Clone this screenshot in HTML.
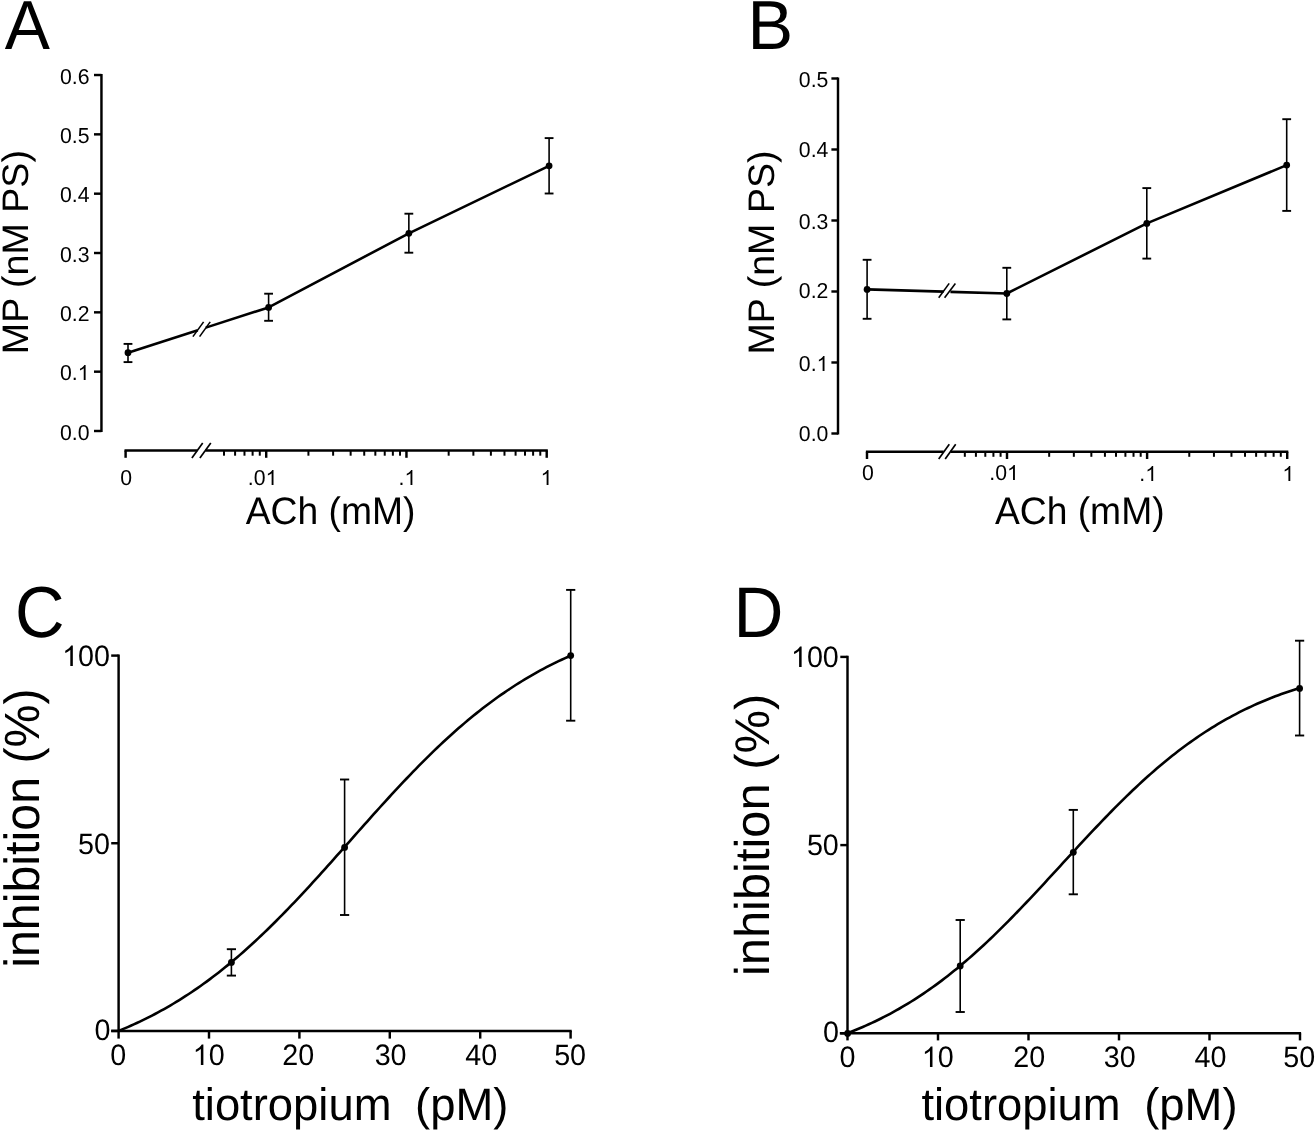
<!DOCTYPE html>
<html><head><meta charset="utf-8"><title>Figure</title><style>
html,body{margin:0;padding:0;background:#fff;overflow:hidden;}
#w{width:1315px;height:1130px;will-change:transform;background:#fff;}
svg{display:block;}
text{font-family:"Liberation Sans", sans-serif;fill:#000;stroke:none;text-rendering:geometricPrecision;}
</style></head><body><div id="w">
<svg width="1315" height="1130" viewBox="0 0 1315 1130">
<rect width="1315" height="1130" fill="#fff"/>
<g stroke="#000" fill="#000" stroke-linecap="butt">
<text transform="translate(4.87,48.75) scale(1.0118,1.0361)" font-size="67">A</text>
<line x1="101.45" y1="73.92" x2="101.45" y2="432.10" stroke-width="2.45"/>
<line x1="94.00" y1="431.00" x2="101.45" y2="431.00" stroke-width="2.45"/>
<g transform="translate(59.960,440.000) scale(1,1.02)" stroke="none"><text x="0.000" y="0" font-size="21.25">0.0</text></g>
<line x1="94.00" y1="371.67" x2="101.45" y2="371.67" stroke-width="2.45"/>
<g transform="translate(59.960,380.000) scale(1,1.02)" stroke="none"><text x="0.000" y="0" font-size="21.25">0.</text><path transform="translate(17.722,0) scale(0.010376,-0.010376)" d="M763 0L583 0L583 1101Q518 1042 412 982Q306 923 222 893L222 1060Q373 1128 486 1225Q599 1322 646 1413L763 1413Z"/></g>
<line x1="94.00" y1="312.34" x2="101.45" y2="312.34" stroke-width="2.45"/>
<g transform="translate(59.960,321.000) scale(1,1.02)" stroke="none"><text x="0.000" y="0" font-size="21.25">0.2</text></g>
<line x1="94.00" y1="253.01" x2="101.45" y2="253.01" stroke-width="2.45"/>
<g transform="translate(59.960,262.000) scale(1,1.02)" stroke="none"><text x="0.000" y="0" font-size="21.25">0.3</text></g>
<line x1="94.00" y1="193.68" x2="101.45" y2="193.68" stroke-width="2.45"/>
<g transform="translate(59.960,202.000) scale(1,1.02)" stroke="none"><text x="0.000" y="0" font-size="21.25">0.4</text></g>
<line x1="94.00" y1="134.35" x2="101.45" y2="134.35" stroke-width="2.45"/>
<g transform="translate(59.960,143.000) scale(1,1.02)" stroke="none"><text x="0.000" y="0" font-size="21.25">0.5</text></g>
<line x1="94.00" y1="75.02" x2="101.45" y2="75.02" stroke-width="2.45"/>
<g transform="translate(59.960,84.000) scale(1,1.02)" stroke="none"><text x="0.000" y="0" font-size="21.25">0.6</text></g>
<text transform="translate(28.32,354.13) rotate(-90) scale(1.0446,1.0245)" font-size="36">MP (nM PS)</text>
<line x1="124.50" y1="450.50" x2="197.30" y2="450.50" stroke-width="2.45"/>
<line x1="205.40" y1="450.50" x2="547.80" y2="450.50" stroke-width="2.45"/>
<line x1="191.90" y1="457.90" x2="202.70" y2="443.10" stroke-width="1.7"/>
<line x1="199.90" y1="457.90" x2="210.80" y2="443.10" stroke-width="1.7"/>
<line x1="125.60" y1="450.50" x2="125.60" y2="457.80" stroke-width="2.45"/>
<line x1="223.98" y1="450.50" x2="223.98" y2="455.70" stroke-width="2.0"/>
<line x1="235.09" y1="450.50" x2="235.09" y2="455.70" stroke-width="2.0"/>
<line x1="244.48" y1="450.50" x2="244.48" y2="455.70" stroke-width="2.0"/>
<line x1="252.61" y1="450.50" x2="252.61" y2="455.70" stroke-width="2.0"/>
<line x1="259.78" y1="450.50" x2="259.78" y2="455.70" stroke-width="2.0"/>
<line x1="266.20" y1="450.50" x2="266.20" y2="457.80" stroke-width="2.45"/>
<line x1="308.42" y1="450.50" x2="308.42" y2="455.70" stroke-width="2.0"/>
<line x1="333.12" y1="450.50" x2="333.12" y2="455.70" stroke-width="2.0"/>
<line x1="350.64" y1="450.50" x2="350.64" y2="455.70" stroke-width="2.0"/>
<line x1="364.23" y1="450.50" x2="364.23" y2="455.70" stroke-width="2.0"/>
<line x1="375.34" y1="450.50" x2="375.34" y2="455.70" stroke-width="2.0"/>
<line x1="384.73" y1="450.50" x2="384.73" y2="455.70" stroke-width="2.0"/>
<line x1="392.86" y1="450.50" x2="392.86" y2="455.70" stroke-width="2.0"/>
<line x1="400.03" y1="450.50" x2="400.03" y2="455.70" stroke-width="2.0"/>
<line x1="406.45" y1="450.50" x2="406.45" y2="457.80" stroke-width="2.45"/>
<line x1="448.67" y1="450.50" x2="448.67" y2="455.70" stroke-width="2.0"/>
<line x1="473.37" y1="450.50" x2="473.37" y2="455.70" stroke-width="2.0"/>
<line x1="490.89" y1="450.50" x2="490.89" y2="455.70" stroke-width="2.0"/>
<line x1="504.48" y1="450.50" x2="504.48" y2="455.70" stroke-width="2.0"/>
<line x1="515.59" y1="450.50" x2="515.59" y2="455.70" stroke-width="2.0"/>
<line x1="524.98" y1="450.50" x2="524.98" y2="455.70" stroke-width="2.0"/>
<line x1="533.11" y1="450.50" x2="533.11" y2="455.70" stroke-width="2.0"/>
<line x1="540.28" y1="450.50" x2="540.28" y2="455.70" stroke-width="2.0"/>
<line x1="546.70" y1="450.50" x2="546.70" y2="457.80" stroke-width="2.45"/>
<g transform="translate(120.270,485.000) scale(1,1.02)" stroke="none"><text x="0.000" y="0" font-size="21.25">0</text></g>
<g transform="translate(247.860,485.000) scale(1,1.02)" stroke="none"><text x="0.000" y="0" font-size="21.25">.0</text><path transform="translate(17.722,0) scale(0.010376,-0.010376)" d="M763 0L583 0L583 1101Q518 1042 412 982Q306 923 222 893L222 1060Q373 1128 486 1225Q599 1322 646 1413L763 1413Z"/></g>
<g transform="translate(398.560,485.000) scale(1,1.02)" stroke="none"><text x="0.000" y="0" font-size="21.25">.</text><path transform="translate(5.904,0) scale(0.010376,-0.010376)" d="M763 0L583 0L583 1101Q518 1042 412 982Q306 923 222 893L222 1060Q373 1128 486 1225Q599 1322 646 1413L763 1413Z"/></g>
<g transform="translate(540.583,485.000) scale(1,1.02)" stroke="none"><path transform="translate(0.000,0) scale(0.010376,-0.010376)" d="M763 0L583 0L583 1101Q518 1042 412 982Q306 923 222 893L222 1060Q373 1128 486 1225Q599 1322 646 1413L763 1413Z"/></g>
<text transform="translate(245.68,524.20) scale(1,1.03)" font-size="37.25">ACh (mM)</text>
<line x1="128.00" y1="352.70" x2="197.80" y2="330.21" stroke-width="2.6"/>
<line x1="205.80" y1="327.63" x2="268.60" y2="307.40" stroke-width="2.6"/>
<line x1="192.90" y1="336.60" x2="203.60" y2="321.90" stroke-width="1.6"/>
<line x1="199.60" y1="336.60" x2="210.20" y2="321.90" stroke-width="1.6"/>
<polyline fill="none" stroke-width="2.6" stroke-linejoin="round" points="268.60,307.40 408.85,233.30 549.10,165.80"/>
<line x1="128.00" y1="343.90" x2="128.00" y2="362.10" stroke-width="1.6"/>
<line x1="123.60" y1="343.90" x2="132.40" y2="343.90" stroke-width="1.9"/>
<line x1="123.60" y1="362.10" x2="132.40" y2="362.10" stroke-width="1.9"/>
<circle cx="128.00" cy="352.70" r="3.4" stroke="none"/>
<line x1="268.60" y1="293.70" x2="268.60" y2="320.80" stroke-width="1.6"/>
<line x1="264.20" y1="293.70" x2="273.00" y2="293.70" stroke-width="1.9"/>
<line x1="264.20" y1="320.80" x2="273.00" y2="320.80" stroke-width="1.9"/>
<circle cx="268.60" cy="307.40" r="3.4" stroke="none"/>
<line x1="408.85" y1="213.70" x2="408.85" y2="252.70" stroke-width="1.6"/>
<line x1="404.45" y1="213.70" x2="413.25" y2="213.70" stroke-width="1.9"/>
<line x1="404.45" y1="252.70" x2="413.25" y2="252.70" stroke-width="1.9"/>
<circle cx="408.85" cy="233.30" r="3.4" stroke="none"/>
<line x1="549.10" y1="138.10" x2="549.10" y2="193.50" stroke-width="1.6"/>
<line x1="544.70" y1="138.10" x2="553.50" y2="138.10" stroke-width="1.9"/>
<line x1="544.70" y1="193.50" x2="553.50" y2="193.50" stroke-width="1.9"/>
<circle cx="549.10" cy="165.80" r="3.4" stroke="none"/>
<text transform="translate(747.38,48.75) scale(1.0218,1.0339)" font-size="67">B</text>
<line x1="838.00" y1="77.40" x2="838.00" y2="434.60" stroke-width="2.45"/>
<line x1="831.40" y1="433.50" x2="838.00" y2="433.50" stroke-width="2.45"/>
<g transform="translate(798.860,441.000) scale(1,1.02)" stroke="none"><text x="0.000" y="0" font-size="21.25">0.0</text></g>
<line x1="831.40" y1="362.50" x2="838.00" y2="362.50" stroke-width="2.45"/>
<g transform="translate(798.860,371.000) scale(1,1.02)" stroke="none"><text x="0.000" y="0" font-size="21.25">0.</text><path transform="translate(17.722,0) scale(0.010376,-0.010376)" d="M763 0L583 0L583 1101Q518 1042 412 982Q306 923 222 893L222 1060Q373 1128 486 1225Q599 1322 646 1413L763 1413Z"/></g>
<line x1="831.40" y1="291.50" x2="838.00" y2="291.50" stroke-width="2.45"/>
<g transform="translate(798.860,298.000) scale(1,1.02)" stroke="none"><text x="0.000" y="0" font-size="21.25">0.2</text></g>
<line x1="831.40" y1="220.50" x2="838.00" y2="220.50" stroke-width="2.45"/>
<g transform="translate(798.860,229.000) scale(1,1.02)" stroke="none"><text x="0.000" y="0" font-size="21.25">0.3</text></g>
<line x1="831.40" y1="149.50" x2="838.00" y2="149.50" stroke-width="2.45"/>
<g transform="translate(798.860,157.000) scale(1,1.02)" stroke="none"><text x="0.000" y="0" font-size="21.25">0.4</text></g>
<line x1="831.40" y1="78.50" x2="838.00" y2="78.50" stroke-width="2.45"/>
<g transform="translate(798.860,87.000) scale(1,1.02)" stroke="none"><text x="0.000" y="0" font-size="21.25">0.5</text></g>
<text transform="translate(774.20,354.54) rotate(-90) scale(1.0451,1.0260)" font-size="36">MP (nM PS)</text>
<line x1="865.90" y1="451.80" x2="943.60" y2="451.80" stroke-width="2.45"/>
<line x1="950.40" y1="451.80" x2="1288.30" y2="451.80" stroke-width="2.45"/>
<line x1="938.70" y1="459.00" x2="949.30" y2="444.30" stroke-width="1.7"/>
<line x1="945.20" y1="459.00" x2="955.70" y2="444.30" stroke-width="1.7"/>
<line x1="867.00" y1="451.80" x2="867.00" y2="459.00" stroke-width="2.45"/>
<line x1="964.83" y1="451.80" x2="964.83" y2="456.80" stroke-width="2.0"/>
<line x1="975.92" y1="451.80" x2="975.92" y2="456.80" stroke-width="2.0"/>
<line x1="985.30" y1="451.80" x2="985.30" y2="456.80" stroke-width="2.0"/>
<line x1="993.42" y1="451.80" x2="993.42" y2="456.80" stroke-width="2.0"/>
<line x1="1000.59" y1="451.80" x2="1000.59" y2="456.80" stroke-width="2.0"/>
<line x1="1007.00" y1="451.80" x2="1007.00" y2="459.00" stroke-width="2.45"/>
<line x1="1049.17" y1="451.80" x2="1049.17" y2="456.80" stroke-width="2.0"/>
<line x1="1073.84" y1="451.80" x2="1073.84" y2="456.80" stroke-width="2.0"/>
<line x1="1091.35" y1="451.80" x2="1091.35" y2="456.80" stroke-width="2.0"/>
<line x1="1104.93" y1="451.80" x2="1104.93" y2="456.80" stroke-width="2.0"/>
<line x1="1116.02" y1="451.80" x2="1116.02" y2="456.80" stroke-width="2.0"/>
<line x1="1125.40" y1="451.80" x2="1125.40" y2="456.80" stroke-width="2.0"/>
<line x1="1133.52" y1="451.80" x2="1133.52" y2="456.80" stroke-width="2.0"/>
<line x1="1140.69" y1="451.80" x2="1140.69" y2="456.80" stroke-width="2.0"/>
<line x1="1147.10" y1="451.80" x2="1147.10" y2="459.00" stroke-width="2.45"/>
<line x1="1189.27" y1="451.80" x2="1189.27" y2="456.80" stroke-width="2.0"/>
<line x1="1213.94" y1="451.80" x2="1213.94" y2="456.80" stroke-width="2.0"/>
<line x1="1231.45" y1="451.80" x2="1231.45" y2="456.80" stroke-width="2.0"/>
<line x1="1245.03" y1="451.80" x2="1245.03" y2="456.80" stroke-width="2.0"/>
<line x1="1256.12" y1="451.80" x2="1256.12" y2="456.80" stroke-width="2.0"/>
<line x1="1265.50" y1="451.80" x2="1265.50" y2="456.80" stroke-width="2.0"/>
<line x1="1273.62" y1="451.80" x2="1273.62" y2="456.80" stroke-width="2.0"/>
<line x1="1280.79" y1="451.80" x2="1280.79" y2="456.80" stroke-width="2.0"/>
<line x1="1287.20" y1="451.80" x2="1287.20" y2="459.00" stroke-width="2.45"/>
<g transform="translate(861.970,480.000) scale(1,1.02)" stroke="none"><text x="0.000" y="0" font-size="21.25">0</text></g>
<g transform="translate(989.260,480.000) scale(1,1.02)" stroke="none"><text x="0.000" y="0" font-size="21.25">.0</text><path transform="translate(17.722,0) scale(0.010376,-0.010376)" d="M763 0L583 0L583 1101Q518 1042 412 982Q306 923 222 893L222 1060Q373 1128 486 1225Q599 1322 646 1413L763 1413Z"/></g>
<g transform="translate(1139.360,481.000) scale(1,1.02)" stroke="none"><text x="0.000" y="0" font-size="21.25">.</text><path transform="translate(5.904,0) scale(0.010376,-0.010376)" d="M763 0L583 0L583 1101Q518 1042 412 982Q306 923 222 893L222 1060Q373 1128 486 1225Q599 1322 646 1413L763 1413Z"/></g>
<g transform="translate(1282.383,481.000) scale(1,1.02)" stroke="none"><path transform="translate(0.000,0) scale(0.010376,-0.010376)" d="M763 0L583 0L583 1101Q518 1042 412 982Q306 923 222 893L222 1060Q373 1128 486 1225Q599 1322 646 1413L763 1413Z"/></g>
<text transform="translate(994.88,523.90) scale(1,1.03)" font-size="37.25">ACh (mM)</text>
<line x1="867.10" y1="289.40" x2="943.60" y2="291.65" stroke-width="2.6"/>
<line x1="950.40" y1="291.84" x2="1006.80" y2="293.50" stroke-width="2.6"/>
<line x1="938.70" y1="297.80" x2="949.20" y2="283.40" stroke-width="1.6"/>
<line x1="944.60" y1="297.80" x2="955.40" y2="283.40" stroke-width="1.6"/>
<polyline fill="none" stroke-width="2.6" stroke-linejoin="round" points="1006.80,293.50 1146.80,223.40 1286.70,165.10"/>
<line x1="867.10" y1="259.80" x2="867.10" y2="318.80" stroke-width="1.6"/>
<line x1="862.70" y1="259.80" x2="871.50" y2="259.80" stroke-width="1.9"/>
<line x1="862.70" y1="318.80" x2="871.50" y2="318.80" stroke-width="1.9"/>
<circle cx="867.10" cy="289.40" r="3.4" stroke="none"/>
<line x1="1006.80" y1="267.80" x2="1006.80" y2="319.40" stroke-width="1.6"/>
<line x1="1002.40" y1="267.80" x2="1011.20" y2="267.80" stroke-width="1.9"/>
<line x1="1002.40" y1="319.40" x2="1011.20" y2="319.40" stroke-width="1.9"/>
<circle cx="1006.80" cy="293.50" r="3.4" stroke="none"/>
<line x1="1146.80" y1="188.10" x2="1146.80" y2="258.60" stroke-width="1.6"/>
<line x1="1142.40" y1="188.10" x2="1151.20" y2="188.10" stroke-width="1.9"/>
<line x1="1142.40" y1="258.60" x2="1151.20" y2="258.60" stroke-width="1.9"/>
<circle cx="1146.80" cy="223.40" r="3.4" stroke="none"/>
<line x1="1286.70" y1="119.20" x2="1286.70" y2="210.90" stroke-width="1.6"/>
<line x1="1282.30" y1="119.20" x2="1291.10" y2="119.20" stroke-width="1.9"/>
<line x1="1282.30" y1="210.90" x2="1291.10" y2="210.90" stroke-width="1.9"/>
<circle cx="1286.70" cy="165.10" r="3.4" stroke="none"/>
<text transform="translate(15.04,636.92) scale(1.0242,1.0807)" font-size="67">C</text>
<line x1="118.60" y1="654.50" x2="118.60" y2="1030.90" stroke-width="2.45"/>
<line x1="111.20" y1="1030.90" x2="118.60" y2="1030.90" stroke-width="2.45"/>
<line x1="111.20" y1="843.25" x2="118.60" y2="843.25" stroke-width="2.45"/>
<line x1="111.20" y1="655.60" x2="118.60" y2="655.60" stroke-width="2.45"/>
<g transform="translate(62.136,666.000) scale(1,1.03)" stroke="none"><path transform="translate(0.000,0) scale(0.014014,-0.014014)" d="M763 0L583 0L583 1101Q518 1042 412 982Q306 923 222 893L222 1060Q373 1128 486 1225Q599 1322 646 1413L763 1413Z"/><text x="15.962" y="0" font-size="28.7">00</text></g>
<g transform="translate(77.998,854.000) scale(1,1.03)" stroke="none"><text x="0.000" y="0" font-size="28.7">50</text></g>
<g transform="translate(94.460,1040.000) scale(1,1.03)" stroke="none"><text x="0.000" y="0" font-size="28.7">0</text></g>
<line x1="111.20" y1="1030.90" x2="571.70" y2="1030.90" stroke-width="2.45"/>
<line x1="118.60" y1="1030.90" x2="118.60" y2="1038.60" stroke-width="2.45"/>
<line x1="209.00" y1="1030.90" x2="209.00" y2="1038.60" stroke-width="2.45"/>
<line x1="299.40" y1="1030.90" x2="299.40" y2="1038.60" stroke-width="2.45"/>
<line x1="389.80" y1="1030.90" x2="389.80" y2="1038.60" stroke-width="2.45"/>
<line x1="480.20" y1="1030.90" x2="480.20" y2="1038.60" stroke-width="2.45"/>
<line x1="570.60" y1="1030.90" x2="570.60" y2="1038.60" stroke-width="2.45"/>
<g transform="translate(110.179,1065.000) scale(1,1.03)" stroke="none"><text x="0.000" y="0" font-size="28.7">0</text></g>
<g transform="translate(192.689,1065.000) scale(1,1.03)" stroke="none"><path transform="translate(0.000,0) scale(0.014014,-0.014014)" d="M763 0L583 0L583 1101Q518 1042 412 982Q306 923 222 893L222 1060Q373 1128 486 1225Q599 1322 646 1413L763 1413Z"/><text x="15.962" y="0" font-size="28.7">0</text></g>
<g transform="translate(282.357,1065.000) scale(1,1.03)" stroke="none"><text x="0.000" y="0" font-size="28.7">20</text></g>
<g transform="translate(374.652,1065.000) scale(1,1.03)" stroke="none"><text x="0.000" y="0" font-size="28.7">30</text></g>
<g transform="translate(465.270,1065.000) scale(1,1.03)" stroke="none"><text x="0.000" y="0" font-size="28.7">40</text></g>
<g transform="translate(554.151,1065.000) scale(1,1.03)" stroke="none"><text x="0.000" y="0" font-size="28.7">50</text></g>
<text transform="translate(39.20,967.77) rotate(-90) scale(1.0072,1.0302)" font-size="48">inhibition (%)</text>
<text transform="translate(192.18,1119.50) scale(1,1.0)" font-size="45.4">tiotropium</text>
<text transform="translate(415.12,1119.50) scale(1,1.0)" font-size="45.4">(pM)</text>
<path d="M118.60,1030.89 L121.63,1029.65 L124.67,1028.38 L127.70,1027.08 L130.74,1025.75 L133.77,1024.39 L136.81,1022.99 L139.84,1021.57 L142.87,1020.12 L145.91,1018.63 L148.94,1017.11 L151.98,1015.56 L155.01,1013.98 L158.04,1012.36 L161.08,1010.71 L164.11,1009.02 L167.15,1007.30 L170.18,1005.54 L173.22,1003.75 L176.25,1001.92 L179.28,1000.05 L182.32,998.15 L185.35,996.21 L188.39,994.24 L191.42,992.23 L194.46,990.18 L197.49,988.09 L200.52,985.96 L203.56,983.80 L206.59,981.60 L209.63,979.36 L212.66,977.08 L215.70,974.76 L218.73,972.41 L221.76,970.02 L224.80,967.59 L227.83,965.12 L230.87,962.62 L233.90,960.07 L236.93,957.49 L239.97,954.88 L243.00,952.22 L246.04,949.53 L249.07,946.81 L252.11,944.05 L255.14,941.25 L258.17,938.42 L261.21,935.56 L264.24,932.66 L267.28,929.73 L270.31,926.77 L273.35,923.78 L276.38,920.76 L279.41,917.70 L282.45,914.62 L285.48,911.51 L288.52,908.38 L291.55,905.22 L294.59,902.03 L297.62,898.82 L300.65,895.59 L303.69,892.33 L306.72,889.06 L309.76,885.77 L312.79,882.45 L315.82,879.12 L318.86,875.78 L321.89,872.42 L324.93,869.05 L327.96,865.67 L331.00,862.27 L334.03,858.87 L337.06,855.46 L340.10,852.05 L343.13,848.63 L346.17,845.21 L349.20,841.78 L352.24,838.36 L355.27,834.93 L358.30,831.51 L361.34,828.09 L364.37,824.68 L367.41,821.28 L370.44,817.88 L373.48,814.49 L376.51,811.12 L379.54,807.75 L382.58,804.40 L385.61,801.07 L388.65,797.75 L391.68,794.45 L394.71,791.16 L397.75,787.90 L400.78,784.66 L403.82,781.44 L406.85,778.24 L409.89,775.07 L412.92,771.92 L415.95,768.80 L418.99,765.71 L422.02,762.65 L425.06,759.61 L428.09,756.60 L431.13,753.63 L434.16,750.69 L437.19,747.78 L440.23,744.90 L443.26,742.05 L446.30,739.24 L449.33,736.47 L452.37,733.73 L455.40,731.02 L458.43,728.35 L461.47,725.72 L464.50,723.13 L467.54,720.57 L470.57,718.05 L473.60,715.56 L476.64,713.12 L479.67,710.71 L482.71,708.34 L485.74,706.01 L488.78,703.71 L491.81,701.46 L494.84,699.24 L497.88,697.06 L500.91,694.92 L503.95,692.82 L506.98,690.75 L510.02,688.72 L513.05,686.73 L516.08,684.78 L519.12,682.86 L522.15,680.98 L525.19,679.13 L528.22,677.33 L531.26,675.55 L534.29,673.82 L537.32,672.11 L540.36,670.45 L543.39,668.81 L546.43,667.22 L549.46,665.65 L552.49,664.12 L555.53,662.62 L558.56,661.15 L561.60,659.72 L564.63,658.31 L567.67,656.94 L570.70,655.60" fill="none" stroke-width="2.6"/>
<line x1="231.40" y1="949.20" x2="231.40" y2="975.60" stroke-width="1.6"/>
<line x1="226.80" y1="949.20" x2="236.00" y2="949.20" stroke-width="1.9"/>
<line x1="226.80" y1="975.60" x2="236.00" y2="975.60" stroke-width="1.9"/>
<circle cx="231.40" cy="962.40" r="3.4" stroke="none"/>
<line x1="344.60" y1="779.50" x2="344.60" y2="915.00" stroke-width="1.6"/>
<line x1="340.00" y1="779.50" x2="349.20" y2="779.50" stroke-width="1.9"/>
<line x1="340.00" y1="915.00" x2="349.20" y2="915.00" stroke-width="1.9"/>
<circle cx="344.60" cy="847.40" r="3.4" stroke="none"/>
<line x1="570.70" y1="589.90" x2="570.70" y2="720.70" stroke-width="1.6"/>
<line x1="566.10" y1="589.90" x2="575.30" y2="589.90" stroke-width="1.9"/>
<line x1="566.10" y1="720.70" x2="575.30" y2="720.70" stroke-width="1.9"/>
<circle cx="570.70" cy="655.60" r="3.4" stroke="none"/>
<text transform="translate(733.62,636.80) scale(1.0322,1.0710)" font-size="67">D</text>
<line x1="847.50" y1="655.80" x2="847.50" y2="1033.30" stroke-width="2.45"/>
<line x1="840.30" y1="1033.30" x2="847.50" y2="1033.30" stroke-width="2.45"/>
<line x1="840.30" y1="845.10" x2="847.50" y2="845.10" stroke-width="2.45"/>
<line x1="840.30" y1="656.90" x2="847.50" y2="656.90" stroke-width="2.45"/>
<g transform="translate(790.936,667.000) scale(1,1.03)" stroke="none"><path transform="translate(0.000,0) scale(0.014014,-0.014014)" d="M763 0L583 0L583 1101Q518 1042 412 982Q306 923 222 893L222 1060Q373 1128 486 1225Q599 1322 646 1413L763 1413Z"/><text x="15.962" y="0" font-size="28.7">00</text></g>
<g transform="translate(806.898,855.000) scale(1,1.03)" stroke="none"><text x="0.000" y="0" font-size="28.7">50</text></g>
<g transform="translate(822.960,1042.000) scale(1,1.03)" stroke="none"><text x="0.000" y="0" font-size="28.7">0</text></g>
<line x1="839.80" y1="1033.30" x2="1301.10" y2="1033.30" stroke-width="2.45"/>
<line x1="847.50" y1="1033.30" x2="847.50" y2="1040.40" stroke-width="2.45"/>
<line x1="938.00" y1="1033.30" x2="938.00" y2="1040.40" stroke-width="2.45"/>
<line x1="1028.50" y1="1033.30" x2="1028.50" y2="1040.40" stroke-width="2.45"/>
<line x1="1119.00" y1="1033.30" x2="1119.00" y2="1040.40" stroke-width="2.45"/>
<line x1="1209.50" y1="1033.30" x2="1209.50" y2="1040.40" stroke-width="2.45"/>
<line x1="1300.00" y1="1033.30" x2="1300.00" y2="1040.40" stroke-width="2.45"/>
<g transform="translate(839.579,1067.000) scale(1,1.03)" stroke="none"><text x="0.000" y="0" font-size="28.7">0</text></g>
<g transform="translate(921.789,1067.000) scale(1,1.03)" stroke="none"><path transform="translate(0.000,0) scale(0.014014,-0.014014)" d="M763 0L583 0L583 1101Q518 1042 412 982Q306 923 222 893L222 1060Q373 1128 486 1225Q599 1322 646 1413L763 1413Z"/><text x="15.962" y="0" font-size="28.7">0</text></g>
<g transform="translate(1013.177,1067.000) scale(1,1.03)" stroke="none"><text x="0.000" y="0" font-size="28.7">20</text></g>
<g transform="translate(1103.852,1067.000) scale(1,1.03)" stroke="none"><text x="0.000" y="0" font-size="28.7">30</text></g>
<g transform="translate(1194.570,1067.000) scale(1,1.03)" stroke="none"><text x="0.000" y="0" font-size="28.7">40</text></g>
<g transform="translate(1283.351,1067.000) scale(1,1.03)" stroke="none"><text x="0.000" y="0" font-size="28.7">50</text></g>
<text transform="translate(768.75,976.11) rotate(-90) scale(1.0175,1.0145)" font-size="48">inhibition (%)</text>
<text transform="translate(921.38,1119.70) scale(1,1.0)" font-size="45.4">tiotropium</text>
<text transform="translate(1144.22,1119.70) scale(1,1.0)" font-size="45.4">(pM)</text>
<path d="M847.60,1033.15 L850.63,1031.98 L853.67,1030.77 L856.70,1029.54 L859.73,1028.28 L862.77,1026.98 L865.80,1025.65 L868.83,1024.29 L871.87,1022.89 L874.90,1021.46 L877.94,1020.00 L880.97,1018.50 L884.00,1016.96 L887.04,1015.39 L890.07,1013.79 L893.10,1012.15 L896.14,1010.47 L899.17,1008.75 L902.20,1006.99 L905.24,1005.20 L908.27,1003.37 L911.30,1001.50 L914.34,999.58 L917.37,997.63 L920.41,995.65 L923.44,993.62 L926.47,991.55 L929.51,989.44 L932.54,987.29 L935.57,985.10 L938.61,982.87 L941.64,980.59 L944.67,978.28 L947.71,975.93 L950.74,973.54 L953.77,971.11 L956.81,968.64 L959.84,966.13 L962.88,963.58 L965.91,960.99 L968.94,958.37 L971.98,955.71 L975.01,953.01 L978.04,950.27 L981.08,947.50 L984.11,944.69 L987.14,941.85 L990.18,938.98 L993.21,936.07 L996.24,933.13 L999.28,930.16 L1002.31,927.16 L1005.34,924.14 L1008.38,921.08 L1011.41,918.00 L1014.45,914.90 L1017.48,911.77 L1020.51,908.62 L1023.55,905.44 L1026.58,902.25 L1029.61,899.04 L1032.65,895.81 L1035.68,892.57 L1038.71,889.32 L1041.75,886.05 L1044.78,882.77 L1047.81,879.48 L1050.85,876.19 L1053.88,872.89 L1056.92,869.58 L1059.95,866.27 L1062.98,862.97 L1066.02,859.66 L1069.05,856.35 L1072.08,853.05 L1075.12,849.76 L1078.15,846.47 L1081.18,843.20 L1084.22,839.93 L1087.25,836.67 L1090.28,833.43 L1093.32,830.21 L1096.35,827.00 L1099.39,823.81 L1102.42,820.64 L1105.45,817.49 L1108.49,814.36 L1111.52,811.26 L1114.55,808.18 L1117.59,805.13 L1120.62,802.11 L1123.65,799.11 L1126.69,796.15 L1129.72,793.21 L1132.75,790.31 L1135.79,787.44 L1138.82,784.60 L1141.86,781.80 L1144.89,779.03 L1147.92,776.30 L1150.96,773.60 L1153.99,770.95 L1157.02,768.32 L1160.06,765.74 L1163.09,763.20 L1166.12,760.69 L1169.16,758.23 L1172.19,755.80 L1175.22,753.41 L1178.26,751.07 L1181.29,748.76 L1184.32,746.49 L1187.36,744.27 L1190.39,742.08 L1193.43,739.94 L1196.46,737.83 L1199.49,735.77 L1202.53,733.74 L1205.56,731.76 L1208.59,729.81 L1211.63,727.90 L1214.66,726.04 L1217.69,724.21 L1220.73,722.42 L1223.76,720.67 L1226.79,718.96 L1229.83,717.28 L1232.86,715.64 L1235.90,714.04 L1238.93,712.47 L1241.96,710.94 L1245.00,709.45 L1248.03,707.99 L1251.06,706.56 L1254.10,705.17 L1257.13,703.81 L1260.16,702.49 L1263.20,701.19 L1266.23,699.93 L1269.26,698.70 L1272.30,697.50 L1275.33,696.33 L1278.37,695.19 L1281.40,694.08 L1284.43,693.00 L1287.47,691.94 L1290.50,690.91 L1293.53,689.91 L1296.57,688.94 L1299.60,687.99" fill="none" stroke-width="2.6"/>
<circle cx="847.60" cy="1033.40" r="3.4" stroke="none"/>
<line x1="960.20" y1="920.00" x2="960.20" y2="1012.00" stroke-width="1.6"/>
<line x1="955.60" y1="920.00" x2="964.80" y2="920.00" stroke-width="1.9"/>
<line x1="955.60" y1="1012.00" x2="964.80" y2="1012.00" stroke-width="1.9"/>
<circle cx="960.20" cy="966.00" r="3.4" stroke="none"/>
<line x1="1073.30" y1="809.90" x2="1073.30" y2="894.30" stroke-width="1.6"/>
<line x1="1068.70" y1="809.90" x2="1077.90" y2="809.90" stroke-width="1.9"/>
<line x1="1068.70" y1="894.30" x2="1077.90" y2="894.30" stroke-width="1.9"/>
<circle cx="1073.30" cy="852.30" r="3.4" stroke="none"/>
<line x1="1299.60" y1="640.70" x2="1299.60" y2="735.50" stroke-width="1.6"/>
<line x1="1295.00" y1="640.70" x2="1304.20" y2="640.70" stroke-width="1.9"/>
<line x1="1295.00" y1="735.50" x2="1304.20" y2="735.50" stroke-width="1.9"/>
<circle cx="1299.60" cy="688.40" r="3.4" stroke="none"/>
</g>
</svg>
</div></body></html>
